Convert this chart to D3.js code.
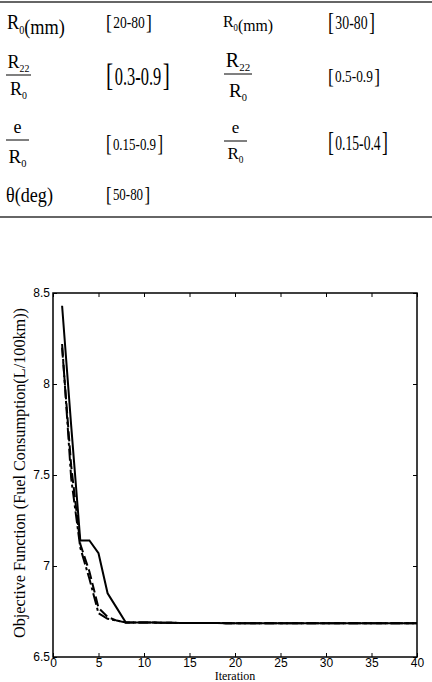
<!DOCTYPE html>
<meta charset="utf-8">
<style>
  body { margin: 0; background: #fff; }
  svg { display: block; }
  .tick text { font-family: "Liberation Sans", Arial, sans-serif; font-size: 12px; fill: #000; }
  .tick line { stroke: #000; stroke-width: 1; }
  .serif { font-family: "Liberation Serif", "Times New Roman", serif; fill: #000; }
</style>
<svg width="432" height="682"></svg>
<script src="https://d3js.org/d3.v7.min.js"></script>
<script>

// ---- table data ----
var paramsLeft  = ["R0(mm)", "R22/R0", "e/R0", "θ(deg)"];
var rangesLeft  = ["20-80", "0.3-0.9", "0.15-0.9", "50-80"];
var paramsRight = ["R0(mm)", "R22/R0", "e/R0"];
var rangesRight = ["30-80", "0.5-0.9", "0.15-0.4"];

// ---- chart data ----
var iterations = [1,2,3,4,5,6,7,8,9,10,11,12,13,14,15,16,17,18,19,20,
                  21,22,23,24,25,26,27,28,29,30,31,32,33,34,35,36,37,38,39,40];
var fuelSolid = [8.43,7.77,7.14,7.14,7.07,6.85,6.77,6.69,6.69,6.69,
                 6.689,6.688,6.688,6.687,6.687,6.687,6.687,6.687,6.686,6.686,
                 6.686,6.686,6.686,6.686,6.686,6.686,6.686,6.686,6.686,6.686,
                 6.686,6.686,6.686,6.686,6.686,6.686,6.686,6.686,6.686,6.686];
var fuelDashDot = [8.22,7.48,7.10,6.93,6.74,6.71,6.70,6.69,6.69,6.69,
                   6.689,6.688,6.688,6.687,6.687,6.687,6.687,6.687,6.686,6.686,
                   6.686,6.686,6.686,6.686,6.686,6.686,6.686,6.686,6.686,6.686,
                   6.686,6.686,6.686,6.686,6.686,6.686,6.686,6.686,6.686,6.686];
var fuelDashed = [8.20,7.55,7.12,6.97,6.77,6.72,6.70,6.69,6.69,6.69,
                  6.689,6.688,6.688,6.687,6.687,6.687,6.687,6.687,6.686,6.686,
                  6.686,6.686,6.686,6.686,6.686,6.686,6.686,6.686,6.686,6.686,
                  6.686,6.686,6.686,6.686,6.686,6.686,6.686,6.686,6.686,6.686];
var xTicks = [0,5,10,15,20,25,30,35,40];
var yTicks = [6.5,7,7.5,8,8.5];

var svg = d3.select("svg");

// ================= table =================
svg.append("line").attr("x1",0).attr("x2",432).attr("y1",2).attr("y2",2)
  .attr("stroke","#666").attr("stroke-width",2);
svg.append("line").attr("x1",0).attr("x2",432).attr("y1",217).attr("y2",217)
  .attr("stroke","#666").attr("stroke-width",2);

var table = svg.append("g").attr("class","serif");

// layout of the cells (positions / sizes only)
var paramLayoutLeft = [
  {x:7, y:29, fs:21, w:58},
  {x:6, bar:75, nb:68, db:95, fsN:18, fsD:18, bw:25},
  {x:6, bar:140, nb:133, db:163, fsN:18, fsD:19, bw:23},
  {x:6, y:202, fs:21, w:47}
];
var paramLayoutRight = [
  {x:223, y:27, fs:17, w:50},
  {x:224, bar:74, nb:67, db:97, fsN:20, fsD:19, bw:28},
  {x:224, bar:141, nb:133, db:159, fsN:17, fsD:17, bw:23}
];
var rangeLayoutLeft = [
  {x:106, y:28, fs:16, w:46},
  {x:106, y:85, fs:25, w:64},
  {x:106, y:150, fs:17, w:57},
  {x:106, y:200, fs:16, w:44}
];
var rangeLayoutRight = [
  {x:328, y:29, fs:19, w:47},
  {x:328, y:82, fs:16, w:52},
  {x:328, y:150, fs:21, w:60}
];

// writes "R0" style strings: digits after R become subscripts
function writeSymbol(t, str, fs) {
  var parts = str.match(/R\d+|[^R]+|R/g);
  parts.forEach(function(p) {
    var m = p.match(/^R(\d+)$/);
    if (m) {
      t.append("tspan").attr("font-size", fs).text("R");
      t.append("tspan").attr("font-size", fs*0.55).attr("dy", fs*0.22).text(m[1]);
      t.append("tspan").attr("font-size", fs).attr("dy", -fs*0.22).text("");
    } else {
      t.append("tspan").attr("font-size", fs).text(p);
    }
  });
}

function squeeze(g, x, y, w) {
  var bb = g.node().getBBox();
  var s = w / bb.width;
  g.attr("transform", "translate(" + x + "," + y + ") scale(" + s + ",1)");
}

function drawParam(str, L) {
  if (str.indexOf("/") >= 0) {
    var parts = str.split("/");
    var cx = L.x + L.bw/2;
    table.append("line").attr("x1",L.x).attr("x2",L.x+L.bw)
      .attr("y1",L.bar).attr("y2",L.bar).attr("stroke","#000").attr("stroke-width",1);
    var n = table.append("text").attr("x",cx).attr("y",L.nb).attr("text-anchor","middle");
    writeSymbol(n, parts[0], L.fsN);
    var d = table.append("text").attr("x",cx).attr("y",L.db).attr("text-anchor","middle");
    writeSymbol(d, parts[1], L.fsD);
  } else {
    var g = table.append("g");
    var t = g.append("text");
    writeSymbol(t, str, L.fs);
    squeeze(g, L.x, L.y, L.w);
  }
}

function drawRange(str, L) {
  var g = table.append("g");
  var t = g.append("text");
  t.append("tspan").attr("font-size", L.fs*1.3).attr("dy", L.fs*0.05).text("[");
  t.append("tspan").attr("font-size", L.fs).attr("dy", -L.fs*0.05).attr("dx", L.fs*0.1).text(str);
  t.append("tspan").attr("font-size", L.fs*1.3).attr("dy", L.fs*0.05).attr("dx", L.fs*0.1).text("]");
  squeeze(g, L.x, L.y, L.w);
}

paramsLeft.forEach(function(p, i) { drawParam(p, paramLayoutLeft[i]); });
paramsRight.forEach(function(p, i) { drawParam(p, paramLayoutRight[i]); });
rangesLeft.forEach(function(r, i) { drawRange(r, rangeLayoutLeft[i]); });
rangesRight.forEach(function(r, i) { drawRange(r, rangeLayoutRight[i]); });

// ================= chart =================
var x = d3.scaleLinear().domain([0,40]).range([53,417]);
var y = d3.scaleLinear().domain([6.5,8.5]).range([657,293]);

var chart = svg.append("g");

chart.append("g")
  .attr("transform","translate(0," + y(6.5) + ")")
  .call(d3.axisBottom(x).tickValues(xTicks).tickSizeInner(-4).tickSizeOuter(0).tickPadding(1.5))
  .call(function(g){ g.select(".domain").remove(); });

chart.append("g")
  .attr("transform","translate(" + x(0) + ",0)")
  .call(d3.axisLeft(y).tickValues(yTicks).tickSizeInner(-4).tickSizeOuter(0).tickPadding(3)
    .tickFormat(d3.format("")))
  .call(function(g){ g.select(".domain").remove(); });

chart.append("g")
  .attr("transform","translate(0," + y(8.5) + ")")
  .call(d3.axisTop(x).tickValues(xTicks).tickSizeInner(-4).tickSizeOuter(0).tickFormat(""))
  .call(function(g){ g.select(".domain").remove(); });

chart.append("g")
  .attr("transform","translate(" + x(40) + ",0)")
  .call(d3.axisRight(y).tickValues(yTicks).tickSizeInner(-4).tickSizeOuter(0).tickFormat(""))
  .call(function(g){ g.select(".domain").remove(); });

chart.append("rect")
  .attr("x", x(0)).attr("y", y(8.5))
  .attr("width", x(40) - x(0)).attr("height", y(6.5) - y(8.5))
  .attr("fill","none").attr("stroke","#000").attr("stroke-width",1.5);

var line = d3.line()
  .x(function(d, i) { return x(iterations[i]); })
  .y(function(d) { return y(d); });

chart.append("path").datum(fuelDashed)
  .attr("d", line).attr("fill","none").attr("stroke","#000")
  .attr("stroke-width",2).attr("stroke-dasharray","10,4");

chart.append("path").datum(fuelDashDot)
  .attr("d", line).attr("fill","none").attr("stroke","#000")
  .attr("stroke-width",2).attr("stroke-dasharray","12,3,3,3");

chart.append("path").datum(fuelSolid)
  .attr("d", line).attr("fill","none").attr("stroke","#000")
  .attr("stroke-width",2);

chart.append("text").attr("class","serif")
  .attr("transform","translate(25," + ((y(6.5)+y(8.5))/2 - 2) + ") rotate(-90)")
  .attr("text-anchor","middle")
  .attr("font-size",16)
  .attr("textLength",330).attr("lengthAdjust","spacingAndGlyphs")
  .text("Objective Function (Fuel Consumption(L/100km))");

chart.append("text").attr("class","serif")
  .attr("x", (x(0)+x(40))/2).attr("y", 679.5)
  .attr("text-anchor","middle")
  .attr("font-size",12)
  .text("Iteration");

</script>
